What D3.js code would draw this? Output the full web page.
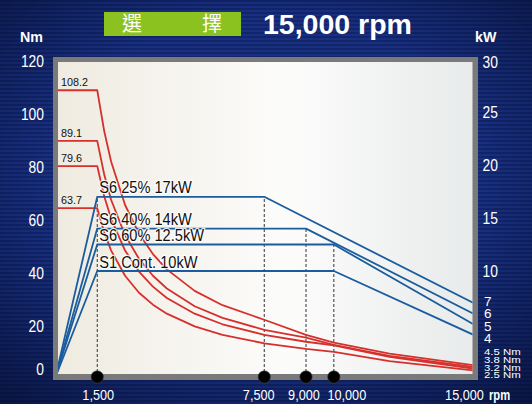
<!DOCTYPE html>
<html><head><meta charset="utf-8">
<script src="https://cdn.jsdelivr.net/npm/d3@7/dist/d3.min.js"></script>
<style>
html,body{margin:0;padding:0;background:#142a74;}
svg{display:block;}
</style></head>
<body>
<svg id="chart" width="532" height="404"></svg>
<script>
// ---------------- data ----------------
const titleChars = ["選", "擇"];
const titleText = "15,000 rpm";
const torqueUnit = "Nm";
const powerUnit = "kW";
const torqueTicks = [0, 20, 40, 60, 80, 100, 120];
const powerTicks = [10, 15, 20, 25, 30];
const speedTicks = [1500, 7500, 9000, 10000, 15000];
const speedTickLabels = ["1,500", "7,500", "9,000", "10,000", "15,000"];
const speedUnit = "rpm";

const modes = ["S6 25% 17kW", "S6 40% 14kW", "S6 60% 12.5kW", "S1 Cont. 10kW"];
const maxTorqueLabels = ["108.2", "89.1", "79.6", "63.7"];
const endPowerLabels = ["7", "6", "5", "4"];
const endTorqueLabels = ["4.5 Nm", "3.8 Nm", "3.2 Nm", "2.5 Nm"];

// torque curves (Nm) read at these speeds (rpm)
const torqueRpm = [0, 1500, 1750, 2000, 2500, 3000, 3500, 4000, 5000, 6000, 7500, 9000, 10000, 12000, 15000];
const torqueS6_25 = [108.2, 108.2, 92.8, 81.2, 64.9, 54.1, 46.4, 40.6, 32.5, 27.1, 21.6, 15.9, 13.0, 8.8, 4.5];
const torqueS6_40 = [89.1, 89.1, 76.4, 66.8, 53.5, 44.6, 38.2, 33.4, 26.7, 22.3, 17.8, 14.9, 12.1, 8.0, 3.8];
const torqueS6_60 = [79.6, 79.6, 68.2, 59.7, 47.7, 39.8, 34.1, 29.8, 23.9, 19.9, 15.9, 13.3, 11.9, 7.6, 3.2];
const torqueS1 = [63.7, 63.7, 54.6, 47.7, 38.2, 31.8, 27.3, 23.9, 19.1, 15.9, 12.7, 10.6, 9.5, 6.0, 2.5];

// power curves (kW)
const powerRpmS6_25 = [0, 1500, 7500, 15000];
const powerS6_25 = [0, 17, 17, 7];
const powerRpmS6_40 = [0, 1500, 9000, 15000];
const powerS6_40 = [0, 14, 14, 6];
const powerRpmS6_60 = [0, 1500, 10000, 15000];
const powerS6_60 = [0, 12.5, 12.5, 5];
const powerRpmS1 = [0, 1500, 10000, 15000];
const powerS1 = [0, 10, 10, 4];

// marked speeds and the power level their guide reaches
const markerRpm = [1500, 7500, 9000, 10000];
const markerPower = [17, 17, 14, 12.5];

// ---------------- drawing ----------------
const svg = d3.select("#chart");
const W = 532, H = 404;
const SANS = "'Liberation Sans',Arial,sans-serif";

const x = d3.scaleLinear().domain([0, 15000]).range([55.5, 473]);
const y = d3.scaleLinear().domain([0, 120]).range([377, 59]);
const yKW = d3.scaleLinear().domain([0, 30]).range([377, 59]);

// text helper with horizontal condensing (narrow face look)
function label(parent, tx, ty, str, o) {
  const sx = o.sx || 1;
  const t = parent.append("text")
    .attr("transform", `translate(${tx},${ty}) scale(${sx},1)`)
    .text(str)
    .attr("font-family", o.family || SANS)
    .attr("font-size", o.size)
    .attr("fill", o.fill || "#fff");
  if (o.anchor) t.attr("text-anchor", o.anchor);
  if (o.dy) t.attr("dy", o.dy);
  if (o.weight) t.attr("font-weight", o.weight);
  return t;
}

const defs = svg.append("defs");
const pat = defs.append("pattern").attr("id", "stripes").attr("patternUnits", "userSpaceOnUse")
  .attr("width", 8).attr("height", 4);
pat.append("rect").attr("width", 8).attr("height", 4).attr("fill", "#19307f");
pat.append("rect").attr("width", 8).attr("height", 2).attr("fill", "#11246c");
const vig = defs.append("radialGradient").attr("id", "vig").attr("cx", "50%").attr("cy", "45%").attr("r", "75%");
vig.append("stop").attr("offset", "0.55").attr("stop-color", "#000820").attr("stop-opacity", 0);
vig.append("stop").attr("offset", "1").attr("stop-color", "#000820").attr("stop-opacity", 0.65);
const pg = defs.append("linearGradient").attr("id", "panelGrad").attr("x1", 0).attr("x2", 1).attr("y1", 0).attr("y2", 0);
pg.append("stop").attr("offset", 0).attr("stop-color", "#efebe0");
pg.append("stop").attr("offset", 0.55).attr("stop-color", "#fcfcfb");
pg.append("stop").attr("offset", 1).attr("stop-color", "#e8ebeb");

svg.append("rect").attr("width", W).attr("height", H).attr("fill", "url(#stripes)");
svg.append("rect").attr("width", W).attr("height", H).attr("fill", "url(#vig)");

// panel
const inner = {x0: 58, y0: 62, x1: 472.5, y1: 374};
svg.append("rect").attr("x", 53).attr("y", 57).attr("width", 425).attr("height", 323).attr("fill", "#7a7a7a");
svg.append("rect").attr("x", inner.x0).attr("y", inner.y0).attr("width", inner.x1 - inner.x0)
  .attr("height", inner.y1 - inner.y0).attr("fill", "url(#panelGrad)");
defs.append("clipPath").attr("id", "clip").append("rect")
  .attr("x", inner.x0).attr("y", inner.y0).attr("width", inner.x1 - inner.x0).attr("height", inner.y1 - inner.y0);

const plot = svg.append("g").attr("clip-path", "url(#clip)");

// dotted guides
markerRpm.forEach((r, i) => {
  plot.append("line").attr("x1", x(r)).attr("x2", x(r)).attr("y1", y(0)).attr("y2", yKW(markerPower[i]))
    .attr("stroke", "#333").attr("stroke-width", 1).attr("stroke-dasharray", "3,2");
});

// torque curves
const torqueSets = [torqueS6_25, torqueS6_40, torqueS6_60, torqueS1];
const tLine = d3.line().x(d => x(d[0])).y(d => y(d[1]));
torqueSets.forEach(arr => {
  plot.append("path").datum(torqueRpm.map((r, i) => [r, arr[i]])).attr("d", tLine)
    .attr("fill", "none").attr("stroke", "#d6302c").attr("stroke-width", 1.8).attr("stroke-linejoin", "round");
});

// labels on lines (text with white halo)
const powerSets = [[powerRpmS6_25, powerS6_25], [powerRpmS6_40, powerS6_40], [powerRpmS6_60, powerS6_60], [powerRpmS1, powerS1]];
modes.forEach((m, i) => {
  const pw = powerSets[i][1][1];
  label(svg, x(1500) + 2, yKW(pw) - 3.5, m, {size: 17, sx: 0.86, fill: "#111"})
    .attr("stroke", "#fff").attr("stroke-width", 2.5).attr("stroke-opacity", 0.85)
    .attr("paint-order", "stroke");
});

// power curves
const pLine = d3.line().x(d => x(d[0])).y(d => yKW(d[1]));
powerSets.forEach(([rs, ps]) => {
  plot.append("path").datum(rs.map((r, i) => [r, ps[i]])).attr("d", pLine)
    .attr("fill", "none").attr("stroke", "#1a5c9e").attr("stroke-width", 1.8).attr("stroke-linejoin", "round");
});

// max torque labels
maxTorqueLabels.forEach((t, i) => {
  label(svg, 61, y(torqueSets[i][0]) - 4, t, {size: 11.5, sx: 0.94, fill: "#111"});
});

// marker dots
markerRpm.forEach(r => {
  svg.append("circle").attr("cx", x(r)).attr("cy", y(0)).attr("r", 6.2)
    .attr("fill", "#000").attr("stroke", "#444").attr("stroke-width", 0.6);
});

// left axis labels
torqueTicks.forEach(v => {
  const cy = Math.max(56, Math.min(369, y(v) + 2));
  label(svg, 44, cy, v, {size: 16.5, sx: 0.84, anchor: "end", dy: "0.35em"});
});
// right axis labels
powerTicks.forEach(v => {
  const cy = Math.max(62.5, yKW(v));
  label(svg, 482.5, cy, v, {size: 16.5, sx: 0.84, dy: "0.35em"});
});
// end power labels
endPowerLabels.forEach((t, i) => {
  label(svg, 484, y(0) - 38.5 - (3 - i) * 12.4, t, {size: 13.5, dy: "0.35em"});
});
endTorqueLabels.forEach((t, i) => {
  label(svg, 484, y(0) - 2 - (3 - i) * 7.8, t, {size: 9.5, sx: 1.2, dy: "0.35em"});
});

// bottom axis labels
const xShift = [1, -5.5, -2, 13, -8.5];
speedTicks.forEach((v, i) => {
  label(svg, x(v) + xShift[i], 395, speedTickLabels[i], {size: 15.5, sx: 0.82, anchor: "middle", dy: "0.35em"});
});
label(svg, 489, 395, speedUnit, {size: 14, sx: 0.8, weight: "bold", dy: "0.35em"});

// units
label(svg, 20, 41.5, torqueUnit, {size: 15.5, sx: 0.92, weight: "bold"});
label(svg, 475, 41.5, powerUnit, {size: 15.5, sx: 0.92, weight: "bold"});

// header
svg.append("rect").attr("x", 104).attr("y", 12).attr("width", 137).attr("height", 24).attr("fill", "#8cc21f");
titleChars.forEach((c, i) => {
  svg.append("text").attr("x", i === 0 ? 132 : 212).attr("y", 24).attr("dy", "0.36em")
    .attr("text-anchor", "middle").text(c)
    .attr("font-family", "'Noto Sans CJK TC','Noto Sans CJK JP',sans-serif").attr("font-size", 20)
    .attr("fill", "#fff");
});
svg.append("text").attr("x", 263).attr("y", 33.5).text(titleText)
  .attr("font-family", SANS).attr("font-weight", "bold").attr("font-size", 28.5).attr("fill", "#fff");
</script>
</body></html>
